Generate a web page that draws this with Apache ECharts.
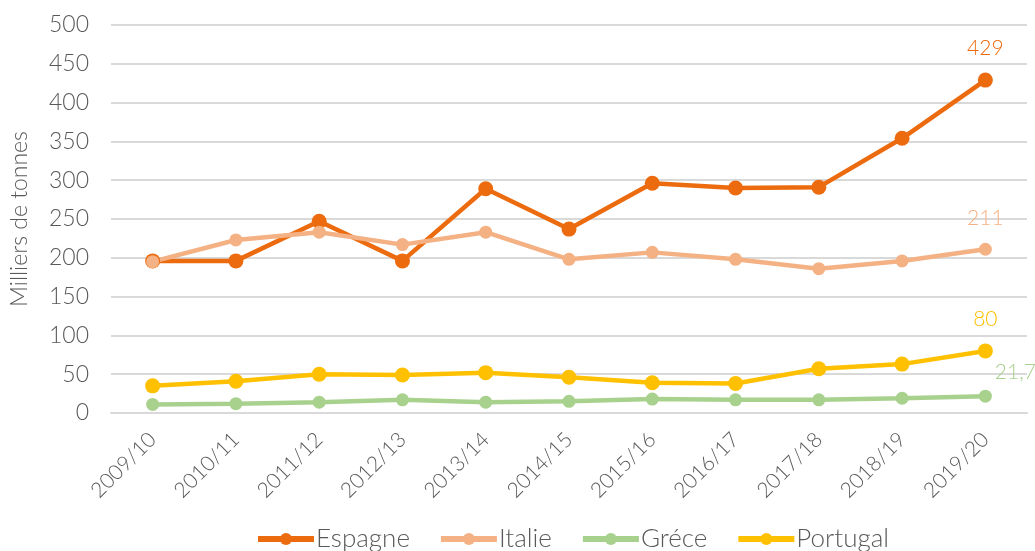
<!DOCTYPE html>
<html>
<head>
<meta charset="utf-8">
<script src="https://cdn.jsdelivr.net/npm/echarts@6/dist/echarts.min.js"></script>
<style>
    html, body {margin: 0; padding: 0; background: #fff;}
    #chart {width: 1035px; height: 551px;}
</style>
</head>
<body>
<div id="chart"></div>
<script>
const campagnes = ['2009/10', '2010/11', '2011/12', '2012/13', '2013/14', '2014/15',
    '2015/16', '2016/17', '2017/18', '2018/19', '2019/20'];
const espagne = [196, 196, 247, 196, 289, 237, 296, 290, 291, 354, 429];
const italie = [195, 223, 233, 217, 233, 198, 207, 198, 186, 196, 211];
const grece = [11, 12, 14, 17, 14, 15, 18, 17, 17, 19, 21.7];
const portugal = [35, 41, 50, 49, 52, 46, 39, 38, 57, 63, 80];

const font = 'Lato';
const grey = '#595959';

const makeSerie = (name, data, color, size, labelPos) => ({
    name: name,
    type: 'line',
    data: data,
    symbol: 'circle',
    symbolSize: size,
    lineStyle: {width: 4.5, color: color},
    itemStyle: {color: color},
    emphasis: {disabled: true},
    labelLayout: {hideOverlap: false},
    label: {
        show: true,
        position: labelPos,
        distance: 14,
        color: color,
        fontFamily: font,
        fontWeight: 300,
        fontSize: 21,
        formatter: (p) => p.dataIndex === data.length - 1 ? String(p.value).replace('.', ',') : '',
    },
});

const chart = echarts.init(document.getElementById('chart'));
chart.setOption({
    animation: false,
    textStyle: {fontFamily: font},
    grid: {left: 111, right: 8, top: 25, bottom: 138, outerBoundsMode: 'none'},
    legend: {
        bottom: -6,
        left: 250,
        itemWidth: 56,
        itemHeight: 15,
        itemGap: 28,
        lineStyle: {width: 6},
        textStyle: {fontFamily: font, fontWeight: 300, fontSize: 26, color: grey, padding: [0, 0, 0, -3]},
        data: ['Espagne', 'Italie', 'Gréce', 'Portugal'],
    },
    xAxis: {
        type: 'category',
        data: campagnes,
        boundaryGap: true,
        axisLine: {show: true, lineStyle: {color: '#d9d9d9', width: 2}},
        axisTick: {show: false},
        axisLabel: {
            rotate: 45,
            margin: 23,
            interval: 0,
            color: grey,
            fontFamily: font,
            fontWeight: 300,
            fontSize: 21,
        },
    },
    yAxis: {
        type: 'value',
        min: 0,
        max: 500,
        interval: 50,
        name: 'Milliers de tonnes',
        nameLocation: 'middle',
        nameGap: 80,
        nameTextStyle: {color: grey, fontFamily: font, fontWeight: 300, fontSize: 23},
        axisLine: {show: false},
        axisTick: {show: false},
        axisLabel: {color: grey, fontFamily: font, fontWeight: 300, fontSize: 23, margin: 22},
        splitLine: {lineStyle: {color: '#d9d9d9', width: 2}},
    },
    series: [
        makeSerie('Espagne', espagne, '#EC6B0E', 15, 'top'),
        makeSerie('Italie', italie, '#F4B183', 13, 'top'),
        makeSerie('Gréce', grece, '#A9D18E', 13, [16, -28]),
        makeSerie('Portugal', portugal, '#FFC000', 15, 'top'),
    ],
});
</script>
</body>
</html>
